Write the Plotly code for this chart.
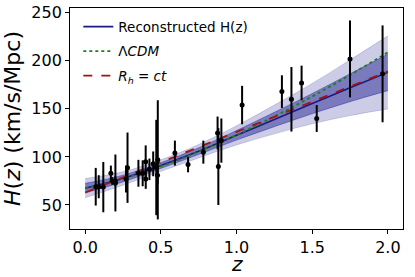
import plotly.graph_objects as go

# Observational H(z) data (cosmic chronometers)
z_obs = [0.07, 0.09, 0.12, 0.17, 0.179, 0.199, 0.2, 0.27, 0.28, 0.352, 0.3802, 0.4,
         0.4004, 0.4247, 0.4497, 0.47, 0.4783, 0.48, 0.593, 0.68, 0.781, 0.875, 0.88,
         0.9, 1.037, 1.3, 1.363, 1.43, 1.53, 1.75, 1.965]
H_obs = [69, 69, 68.6, 83, 75, 75, 72.9, 77, 88.8, 83, 83, 95, 77, 87.1, 92.8, 89,
         80.9, 97, 104, 92, 105, 125, 90, 117, 154, 168, 160, 177, 140, 202, 186.5]
H_err = [19.6, 12, 26.2, 8, 4, 5, 29.6, 14, 36.6, 14, 13.5, 17, 10.2, 11.2, 12.9, 49.6,
         9, 62, 13, 8, 12, 17, 40, 23, 20, 17, 33.6, 18, 14, 40, 50.4]

# Curves
z_grid = [0.0, 0.25, 0.5, 0.75, 1.0, 1.25, 1.5, 1.75, 2.0]
H_rec = [67.5, 77.5, 91.0, 106.0, 122.5, 139.0, 155.5, 172.0, 188.0]
sig_rec = [5.0, 3.5, 3.0, 3.5, 5.0, 7.5, 10.5, 14.5, 19.0]
H_lcdm = [67.5, 77.4, 90.2, 105.4, 122.8, 142.1, 162.9, 185.3, 208.9]
H_rhct = [63.0, 78.75, 94.5, 110.25, 126.0, 141.75, 157.5, 173.25, 189.0]

y_ticks = [50, 100, 150, 200, 250]
x_ticks = [0.0, 0.5, 1.0, 1.5, 2.0]

FONT = "DejaVu Sans"
outer_col = "rgba(0,0,128,0.2)"
inner_col = "rgba(0,0,128,0.4)"

up2 = [m + 2 * s for m, s in zip(H_rec, sig_rec)]
lo2 = [m - 2 * s for m, s in zip(H_rec, sig_rec)]
up1 = [m + s for m, s in zip(H_rec, sig_rec)]
lo1 = [m - s for m, s in zip(H_rec, sig_rec)]

fig = go.Figure()
fig.add_trace(go.Scatter(x=z_grid, y=up2, mode="lines", line=dict(color=outer_col, width=0.8, shape="spline"),
                         showlegend=False, hoverinfo="skip"))
fig.add_trace(go.Scatter(x=z_grid, y=lo2, mode="lines", line=dict(color=outer_col, width=0.8, shape="spline"),
                         fill="tonexty", fillcolor=outer_col, showlegend=False, hoverinfo="skip"))
fig.add_trace(go.Scatter(x=z_grid, y=up1, mode="lines", line=dict(color=inner_col, width=0.8, shape="spline"),
                         showlegend=False, hoverinfo="skip"))
fig.add_trace(go.Scatter(x=z_grid, y=lo1, mode="lines", line=dict(color=inner_col, width=0.8, shape="spline"),
                         fill="tonexty", fillcolor=inner_col, showlegend=False, hoverinfo="skip"))

fig.add_trace(go.Scatter(x=z_grid, y=H_rec, mode="lines", name="Reconstructed H(z)", legendgroup="a",
                         line=dict(color="#1a1a80", width=1.6, shape="spline")))
fig.add_trace(go.Scatter(x=z_grid, y=H_lcdm, mode="lines", name="Λ<i>CDM</i>", legendgroup="b",
                         line=dict(color="#1a801a", width=1.8, dash="dot", shape="spline")))
fig.add_trace(go.Scatter(x=z_grid, y=H_rhct, mode="lines", name="<i>R<sub>h</sub></i> = <i>ct</i>",
                         legendgroup="c",
                         line=dict(color="#a01414", width=1.8, dash="dash", shape="spline")))

fig.add_trace(go.Scatter(x=z_obs, y=H_obs, mode="markers", showlegend=False,
                         marker=dict(color="black", size=5),
                         error_y=dict(type="data", array=H_err, color="black", thickness=2, width=0)))

fig.update_layout(
    width=415, height=277,
    margin=dict(l=70, r=12, t=8, b=48),
    paper_bgcolor="white", plot_bgcolor="white",
    font=dict(family=FONT, size=16, color="black"),
    legend=dict(x=0.025, y=0.985, xanchor="left", yanchor="top", bgcolor="rgba(0,0,0,0)",
                traceorder="grouped", tracegroupgap=4,
                font=dict(family=FONT, size=13.5, color="black"), itemwidth=30),
    showlegend=True,
    annotations=[dict(text="<i>z</i>", xref="paper", yref="paper", x=0.5, y=-0.1,
                      xanchor="center", yanchor="top", showarrow=False, borderpad=0,
                      font=dict(family=FONT, size=20, color="black"))],
)
fig.update_xaxes(range=[-0.1, 2.1], tickvals=x_ticks, ticktext=[f"{v:.1f}" for v in x_ticks],
                 showgrid=False, zeroline=False, showline=True, linecolor="black", linewidth=0.8,
                 mirror=True, ticks="outside", ticklen=4, tickwidth=0.8, tickcolor="black",
                 automargin=False)
fig.update_yaxes(range=[25, 255], tickvals=y_ticks, showgrid=False, zeroline=False,
                 showline=True, linecolor="black", linewidth=0.8, mirror=True,
                 ticks="outside", ticklen=4, tickwidth=0.8, tickcolor="black",
                 automargin=False,
                 title=dict(text="<i>H</i>(<i>z</i>) (km/s/Mpc)", font=dict(family=FONT, size=22), standoff=6))

fig.write_html("out.html", post_script="document.body.style.margin='0';",
               config={"displayModeBar": False})
